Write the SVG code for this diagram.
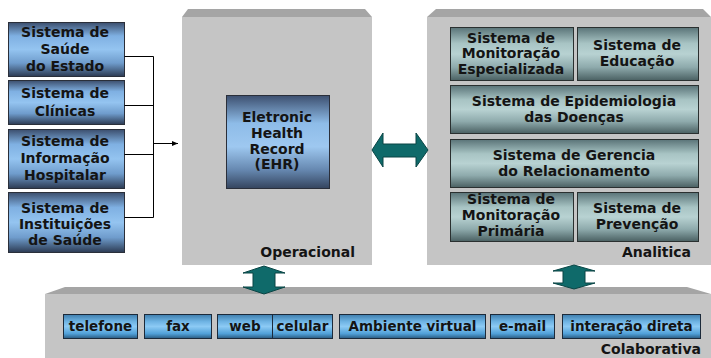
<svg xmlns="http://www.w3.org/2000/svg" width="711" height="358" viewBox="0 0 711 358">
<defs>
<linearGradient id="gBlue" x1="0" y1="0" x2="0" y2="1">
<stop offset="0" stop-color="#3c4f6e"/>
<stop offset="0.25" stop-color="#7fb0e2"/>
<stop offset="0.5" stop-color="#94c4f0"/>
<stop offset="0.75" stop-color="#6f9ccc"/>
<stop offset="1" stop-color="#2c3a52"/>
</linearGradient>
<linearGradient id="gEhr" x1="0" y1="0" x2="0" y2="1">
<stop offset="0" stop-color="#3d5070"/>
<stop offset="0.3" stop-color="#8ebce8"/>
<stop offset="0.55" stop-color="#9ec8f0"/>
<stop offset="0.8" stop-color="#6688b0"/>
<stop offset="1" stop-color="#34445e"/>
</linearGradient>
<linearGradient id="gTeal" x1="0" y1="0" x2="0" y2="1">
<stop offset="0" stop-color="#5a7478"/>
<stop offset="0.3" stop-color="#a8c4c4"/>
<stop offset="0.5" stop-color="#b8d2d2"/>
<stop offset="0.75" stop-color="#8eaaac"/>
<stop offset="1" stop-color="#4a6062"/>
</linearGradient>
<linearGradient id="gBtn" x1="0" y1="0" x2="0" y2="1">
<stop offset="0" stop-color="#3f7fae"/>
<stop offset="0.3" stop-color="#6fb4e4"/>
<stop offset="0.5" stop-color="#8ccaf4"/>
<stop offset="0.8" stop-color="#50a0d8"/>
<stop offset="1" stop-color="#2a5a80"/>
</linearGradient>
<marker id="ah" viewBox="0 0 10 10" refX="10" refY="5" markerWidth="6" markerHeight="6" orient="auto" markerUnits="userSpaceOnUse">
<path d="M0,1 L10,5 L0,9 z" fill="#000"/>
</marker>
<style>
.t{font-family:"DejaVu Sans",Verdana,sans-serif;font-weight:bold;font-size:14px;fill:#141414;text-anchor:middle}
.tb{font-family:"DejaVu Sans",Verdana,sans-serif;font-weight:bold;font-size:13.5px;fill:#141414;text-anchor:middle}
.lbl{font-family:"DejaVu Sans",Verdana,sans-serif;font-weight:bold;font-size:14px;fill:#141414;text-anchor:end}
.blue{fill:url(#gBlue);stroke:#2a2f3a;stroke-width:1}
.ehr{fill:url(#gEhr);stroke:#2a2f3a;stroke-width:1}
.teal{fill:url(#gTeal);stroke:#2a3030;stroke-width:1}
.btn{fill:url(#gBtn);stroke:#1c2a3a;stroke-width:1}
.panel{fill:#c5c5c5}
.bevel{fill:#a5a5a5}
.arr{fill:#0f6a6a;stroke:#0a4545;stroke-width:1}
.ln{stroke:#000;stroke-width:1;fill:none}
</style>
</defs>

<g id="panel-operacional">
<polygon class="bevel" points="188,9 365,9 372,17 182,17"/>
<rect class="panel" x="182" y="17" width="190" height="248"/>
<text class="lbl" x="355" y="257">Operacional</text>
</g>
<g id="panel-analitica">
<polygon class="bevel" points="436,9 703,9 711,17 427,17"/>
<rect class="panel" x="427" y="17" width="284" height="248"/>
<text class="lbl" x="691" y="257">Analitica</text>
</g>
<g id="panel-colaborativa">
<polygon class="bevel" points="65,287 687,287 711,294 45,294"/>
<rect class="panel" x="45" y="294" width="666" height="64"/>
<text class="lbl" x="701" y="354">Colaborativa</text>
</g>

<g id="n-saude-estado">
<rect class="blue" x="8.5" y="22.5" width="116" height="54"/>
<text class="t" x="65" y="37">Sistema de</text>
<text class="t" x="65" y="54">Saúde</text>
<text class="t" x="65" y="71">do Estado</text>
</g>
<g id="n-clinicas">
<rect class="blue" x="8.5" y="80.5" width="116" height="44"/>
<text class="t" x="65" y="98">Sistema de</text>
<text class="t" x="65" y="116">Clínicas</text>
</g>
<g id="n-info-hosp">
<rect class="blue" x="8.5" y="129.5" width="116" height="59"/>
<text class="t" x="65" y="146">Sistema de</text>
<text class="t" x="65" y="163">Informação</text>
<text class="t" x="65" y="180">Hospitalar</text>
</g>
<g id="n-instituicoes">
<rect class="blue" x="8.5" y="192.5" width="116" height="60"/>
<text class="t" x="65" y="213">Sistema de</text>
<text class="t" x="65" y="229">Instituições</text>
<text class="t" x="65" y="245">de Saúde</text>
</g>

<g id="n-ehr">
<rect class="ehr" x="226.5" y="95.5" width="103" height="93"/>
<text class="t" x="277" y="122">Eletronic</text>
<text class="t" x="277" y="138">Health</text>
<text class="t" x="277" y="154">Record</text>
<text class="t" x="277" y="169">(EHR)</text>
</g>

<g id="n-mon-esp">
<rect class="teal" x="450.5" y="27.5" width="123" height="53"/>
<text class="t" x="511" y="43">Sistema de</text>
<text class="t" x="511" y="58">Monitoração</text>
<text class="t" x="511" y="74">Especializada</text>
</g>
<g id="n-educacao">
<rect class="teal" x="577.5" y="27.5" width="121" height="53"/>
<text class="t" x="637" y="50">Sistema de</text>
<text class="t" x="637" y="66">Educação</text>
</g>
<g id="n-epidemiologia">
<rect class="teal" x="450.5" y="85.5" width="248" height="48"/>
<text class="t" x="574" y="106">Sistema de Epidemiologia</text>
<text class="t" x="574" y="122">das Doenças</text>
</g>
<g id="n-gerencia">
<rect class="teal" x="450.5" y="139.5" width="248" height="48"/>
<text class="t" x="574" y="160">Sistema de Gerencia</text>
<text class="t" x="574" y="176">do Relacionamento</text>
</g>
<g id="n-mon-prim">
<rect class="teal" x="450.5" y="192.5" width="123" height="49"/>
<text class="t" x="511" y="204">Sistema de</text>
<text class="t" x="511" y="220">Monitoração</text>
<text class="t" x="511" y="236">Primária</text>
</g>
<g id="n-prevencao">
<rect class="teal" x="577.5" y="192.5" width="121" height="49"/>
<text class="t" x="637" y="213">Sistema de</text>
<text class="t" x="637" y="229">Prevenção</text>
</g>

<g id="n-telefone"><rect class="btn" x="63.5" y="314.5" width="74" height="24"/><text class="tb" x="100.5" y="331">telefone</text></g>
<g id="n-fax"><rect class="btn" x="144.5" y="314.5" width="67" height="24"/><text class="tb" x="178" y="331">fax</text></g>
<g id="n-web"><rect class="btn" x="217.5" y="314.5" width="55" height="24"/><text class="tb" x="245" y="331">web</text></g>
<g id="n-celular"><rect class="btn" x="272.5" y="314.5" width="60" height="24"/><text class="tb" x="302.5" y="331">celular</text></g>
<g id="n-ambiente"><rect class="btn" x="339.5" y="314.5" width="146" height="24"/><text class="tb" x="412.5" y="331">Ambiente virtual</text></g>
<g id="n-email"><rect class="btn" x="490.5" y="314.5" width="64" height="24"/><text class="tb" x="522.5" y="331">e-mail</text></g>
<g id="n-interacao"><rect class="btn" x="562.5" y="314.5" width="138" height="24"/><text class="tb" x="631.5" y="331">interação direta</text></g>

<g id="connectors">
<path class="ln" d="M124.5,56.5 H153.5 M124.5,105.5 H153.5 M124.5,154.5 H153.5 M124.5,217.5 H153.5 M153.5,56.5 V217.5"/>
<line class="ln" x1="153.5" y1="143.5" x2="178" y2="143.5" marker-end="url(#ah)"/>
<polygon class="arr" points="372,150 383,133 383,144 416,144 416,133 428,150 416,167 416,157 383,157 383,167"/>
<polygon class="arr" points="264,266 285,273 275,273 275,287 285,287 264,294 243,287 253,287 253,273 243,273"/>
<polygon class="arr" points="574,265 595,271 585,271 585,283 595,283 574,289 553,283 563,283 563,271 553,271"/>
</g>
</svg>
